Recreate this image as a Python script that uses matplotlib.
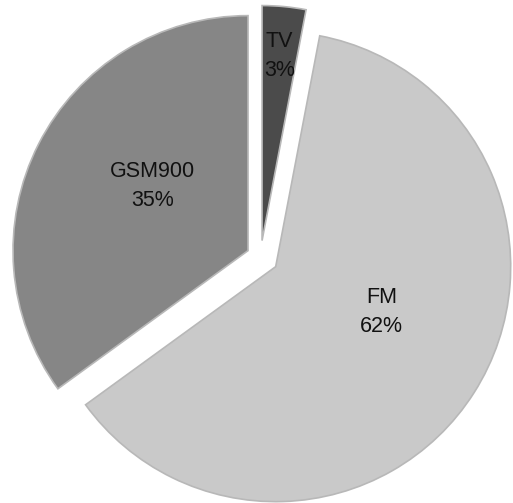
import numpy as np
import matplotlib
matplotlib.use('Agg')
import matplotlib.pyplot as plt

# band shares of the measured exposure
bands = ['TV', 'FM', 'GSM900']
shares = [3, 62, 35]
colors = ['#4b4b4b', '#c9c9c9', '#868686']
explode = [16.5, 18.0, 14.0]   # pixels, pie takes data units here

# where each label sits, as a fraction of the radius from its wedge tip
label_dist = [0.79, 0.49, 0.49]
label_shift = [0.0, 9.0, -7.0]   # degrees off the wedge middle

radius = 235
center = (260.5, 246.0)

fig = plt.figure(figsize=(5.13, 5.03), dpi=100)
ax = fig.add_axes([0, 0, 1, 1])

wedges, _ = ax.pie(shares, colors=colors, explode=explode, radius=radius,
                   center=center, startangle=90, counterclock=False,
                   wedgeprops=dict(edgecolor='#b8b8b8', linewidth=1.2))

for w, name, val, d, s in zip(wedges, bands, shares, label_dist, label_shift):
    mid = np.deg2rad((w.theta1 + w.theta2) / 2 + s)
    cx, cy = w.center
    x = cx + d * radius * np.cos(mid)
    y = cy + d * radius * np.sin(mid)
    ax.text(x, y, f'{name}\n{val}%', ha='center', va='center',
            fontsize=15.5, family='Liberation Sans', color='#111111',
            linespacing=1.5)

ax.set_xlim(0, 513)
ax.set_ylim(0, 503)
ax.set_aspect('auto')
ax.axis('off')

fig.savefig('out.png', dpi=100, facecolor='white')
